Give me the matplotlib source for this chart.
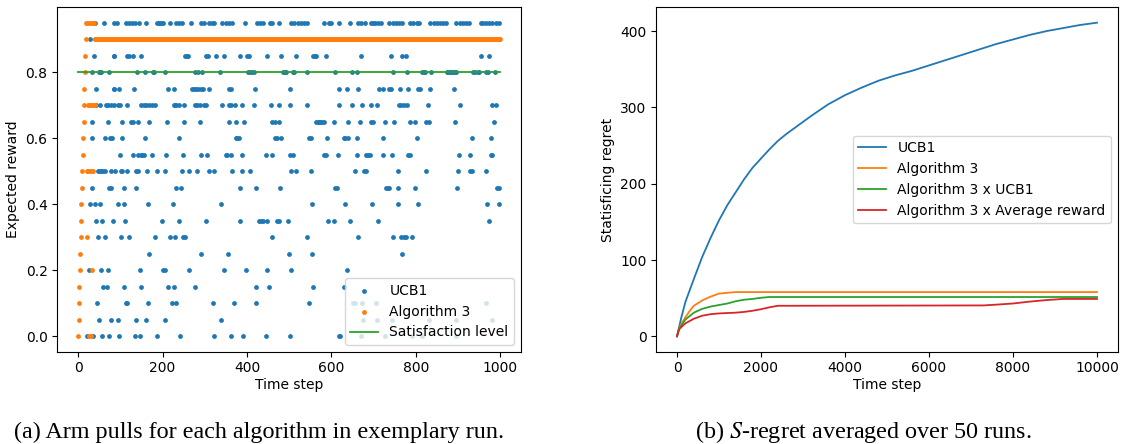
import matplotlib
matplotlib.use("Agg")
import matplotlib.pyplot as plt
import numpy as np

# ---- (a) arm pulls in one exemplary run ----
N_STEPS = 1000
SATISFACTION = 0.8

# UCB1 pull times, one list per arm (expected reward of the arm)
UCB1_000 = [22, 36, 57, 74, 98, 135, 146, 188, 242, 321, 363, 391, 444, 502, 617, 621, 670, 726, 791, 814, 895]
UCB1_005 = [50, 78, 94, 136, 161, 206, 338, 675, 709, 744, 830, 895, 981]
UCB1_010 = [45, 113, 117, 166, 222, 233, 319, 369, 422, 546, 651, 656, 672, 706, 965]
UCB1_015 = [59, 69, 109, 150, 214, 228, 276, 422, 452, 557, 629]
UCB1_020 = [26, 55, 71, 146, 202, 206, 262, 346, 398, 447, 505, 638]
UCB1_025 = [169, 290, 355, 499, 553, 768]
UCB1_030 = [47, 63, 102, 121, 181, 218, 229, 249, 253, 460, 541, 664, 745, 764, 771, 776, 791]
UCB1_035 = [43, 57, 82, 112, 198, 239, 302, 384, 429, 433, 437, 448, 471, 476, 497, 591, 605, 643, 710, 972]
UCB1_040 = [29, 40, 53, 94, 108, 165, 224, 338, 553, 633, 695, 757, 805, 968, 998]
UCB1_045 = [34, 73, 78, 109, 138, 231, 243, 384, 421, 479, 609, 613, 729, 733, 737, 758, 798, 898, 991, 997]
UCB1_050 = [47, 51, 55, 59, 63, 78, 88, 102, 105, 115, 138, 142, 164, 188, 206, 247, 263, 282, 309, 322,
            365, 388, 406, 505, 516, 551, 656, 678, 683, 757, 825, 900, 929, 933, 966]
UCB1_055 = [100, 130, 143, 148, 152, 156, 175, 208, 249, 290, 305, 350, 353, 361, 388, 445, 460, 501, 509,
            582, 586, 616, 660, 683, 687, 691, 722, 743, 781, 786, 902, 929, 978, 981]
UCB1_060 = [32, 63, 76, 81, 104, 158, 239, 373, 377, 381, 466, 470, 481, 547, 551, 590, 629, 633, 640,
            660, 722, 802, 933, 978]
UCB1_065 = [34, 71, 105, 125, 129, 142, 167, 210, 251, 288, 357, 373, 394, 460, 466, 476, 563, 567, 571,
            574, 578, 582, 605, 639, 667, 693, 698, 727, 749, 786, 797, 825, 830, 892, 985]
UCB1_070 = [42, 53, 65, 71, 78, 86, 94, 99, 117, 148, 156, 161, 167, 175, 181, 226, 229, 233, 239, 251,
            276, 282, 288, 299, 303, 342, 357, 361, 371, 388, 417, 457, 476, 502, 543, 619, 648, 673,
            693, 709, 760, 764, 771, 778, 829, 905, 981, 989]
UCB1_075 = [42, 84, 86, 96, 133, 212, 228, 270, 274, 280, 284, 290, 295, 311, 357, 361, 419, 501, 617,
            636, 662, 712, 722, 737, 741, 763, 782, 805, 809, 833, 891]
UCB1_080 = [32, 50, 53, 55, 74, 140, 158, 177, 179, 205, 278, 284, 293, 336, 402, 406, 412, 416, 485,
            489, 493, 509, 512, 543, 608, 648, 660, 745, 780, 815, 819, 822, 836, 873, 877, 881, 884,
            888, 892, 896, 936, 941, 946, 950, 966, 970, 988]
UCB1_085 = [37, 84, 86, 117, 121, 130, 150, 253, 257, 260, 303, 307, 326, 346, 383, 400, 404, 447, 481,
            516, 557, 561, 564, 588, 670, 741, 768, 776, 954, 974]
UCB1_090 = [28]
UCB1_095 = [40, 61, 86, 91, 113, 121, 127, 135, 144, 161, 187, 191, 195, 198, 202, 218, 233, 239, 245,
            267, 291, 298, 311, 316, 321, 342, 350, 357, 365, 396, 423, 431, 439, 454, 460, 476, 505,
            512, 520, 528, 536, 543, 582, 594, 600, 619, 644, 664, 671, 679, 693, 698, 704, 710, 718,
            737, 745, 753, 760, 768, 786, 794, 802, 807, 834, 842, 850, 857, 865, 871, 896, 904, 911,
            919, 926, 954, 960, 966, 974, 981, 989, 997]

# Algorithm 3: exploration phase (step -> arm), then it keeps pulling one arm
ALG3_EXPLORE_STEPS = [0, 1, 2, 3, 4, 5, 6, 7, 8, 9, 10, 11, 12, 13, 14, 15, 16, 17, 18, 19,
                      20, 21, 22, 23, 24, 25, 26, 27, 28, 29, 30, 31, 32, 33, 34, 35, 36, 37, 38, 39]
ALG3_EXPLORE_ARMS = [0.0, 0.05, 0.1, 0.15, 0.2, 0.25, 0.3, 0.35, 0.4, 0.45, 0.5, 0.55, 0.6, 0.65,
                     0.7, 0.75, 0.8, 0.85, 0.9, 0.95,
                     0.5, 0.3, 0.95, 0.7, 0.5, 0.95, 0.7, 0.0, 0.5, 0.7, 0.95, 0.0, 0.2, 0.5,
                     0.7, 0.95, 0.5, 0.7, 0.95, 0.7]
ALG3_SETTLED_ARM = 0.9
ALG3_SETTLED_FROM = 40

# ---- (b) S-regret averaged over 50 runs ----
UCB1_T = [0, 50, 100, 200, 400, 600, 800, 1000, 1200, 1400, 1600, 1800, 2000, 2200, 2400, 2600, 2800,
          3000, 3200, 3600, 4000, 4400, 4800, 5200, 5600, 6000, 6400, 6800, 7200, 7600, 8000, 8400,
          8800, 9200, 9600, 10000]
UCB1_REGRET = [0, 12, 24, 45, 75, 104, 129, 152, 172, 189, 206, 221, 233, 245, 256, 265, 273,
               281, 289, 304, 316, 326, 335, 342, 348, 355, 362, 369, 376, 383, 389, 395,
               400, 404, 408, 411]
ALG3_T = [0, 50, 100, 200, 300, 400, 600, 800, 1000, 1200, 1400, 10000]
ALG3_REGRET = [0, 10, 16, 25, 33, 40, 47, 52, 56, 57, 58, 58]
ALG3_UCB_T = [0, 50, 100, 200, 400, 600, 800, 1000, 1200, 1400, 1600, 1800, 2000, 2200, 10000]
ALG3_UCB_REGRET = [0, 10, 14, 22, 31, 36, 39, 41, 43, 46, 48, 49, 50.5, 51.5, 51.5]
ALG3_AVG_T = [0, 50, 100, 200, 400, 600, 800, 1000, 1200, 1400, 1600, 1800, 2000, 2200, 2400,
              7300, 7600, 8000, 8400, 8800, 9200, 10000]
ALG3_AVG_REGRET = [0, 9, 12, 17, 23, 27, 29, 30, 30.5, 31, 32, 33.5, 35.5, 38, 40,
                   40.5, 41.5, 43, 45.5, 47.5, 49, 49]

FS = 10

plt.rcParams["font.family"] = ["DejaVu Sans"]
plt.rcParams["font.size"] = FS
plt.rcParams["mathtext.fontset"] = "stix"

fig = plt.figure(figsize=(11.21, 4.44), dpi=100)
ax1 = fig.add_axes([57 / 1121, 92 / 444, 464 / 1121, 345 / 444])
ax2 = fig.add_axes([656 / 1121, 92 / 444, 462 / 1121, 345 / 444])

# left: arm pulls
ucb_lists = [UCB1_000, UCB1_005, UCB1_010, UCB1_015, UCB1_020, UCB1_025, UCB1_030, UCB1_035,
             UCB1_040, UCB1_045, UCB1_050, UCB1_055, UCB1_060, UCB1_065, UCB1_070, UCB1_075,
             UCB1_080, UCB1_085, UCB1_090, UCB1_095]
levels = np.round(np.arange(len(ucb_lists)) * 0.05, 2)
ucb_x = np.concatenate([np.array(s, dtype=float) for s in ucb_lists])
ucb_y = np.concatenate([np.full(len(s), lv) for s, lv in zip(ucb_lists, levels)])

settled = np.arange(ALG3_SETTLED_FROM, N_STEPS)
alg_x = np.concatenate([ALG3_EXPLORE_STEPS, settled])
alg_y = np.concatenate([ALG3_EXPLORE_ARMS, np.full(len(settled), ALG3_SETTLED_ARM)])

ax1.scatter(ucb_x, ucb_y, s=12, color="#1f77b4", linewidths=0, label="UCB1")
ax1.scatter(alg_x, alg_y, s=12, color="#ff7f0e", linewidths=0, label="Algorithm 3")
ax1.plot([0, N_STEPS - 1], [SATISFACTION, SATISFACTION], color="#2ca02c", lw=1.3,
         label="Satisfaction level")
ax1.set_xlabel("Time step", labelpad=2)
ax1.set_ylabel("Expected reward")
ax1.set_xticks([0, 200, 400, 600, 800, 1000])
ax1.set_yticks([0.0, 0.2, 0.4, 0.6, 0.8])
ax1.legend(loc="lower right", fontsize=FS)

# right: regret curves
ax2.plot(UCB1_T, UCB1_REGRET, color="#1f77b4", lw=1.3, label="UCB1")
ax2.plot(ALG3_T, ALG3_REGRET, color="#ff7f0e", lw=1.3, label="Algorithm 3")
ax2.plot(ALG3_UCB_T, ALG3_UCB_REGRET, color="#2ca02c", lw=1.3, label="Algorithm 3 x UCB1")
ax2.plot(ALG3_AVG_T, ALG3_AVG_REGRET, color="#d62728", lw=1.3, label="Algorithm 3 x Average reward")
ax2.set_xlabel("Time step", labelpad=2)
ax2.set_ylabel("Statisficing regret")
ax2.set_xticks([0, 2000, 4000, 6000, 8000, 10000])
ax2.set_yticks([0, 100, 200, 300, 400])
ax2.legend(loc="center right", fontsize=FS)

for ax in (ax1, ax2):
    ax.tick_params(labelsize=FS, length=3.3)

# LaTeX-style sub-captions
cap = dict(family=["Liberation Serif", "DejaVu Serif"], fontsize=17.4, ha="center", va="baseline")
fig.text(259 / 1121, 1 - 438 / 444, "(a) Arm pulls for each algorithm in exemplary run.", **cap)
fig.text(863 / 1121, 1 - 438 / 444, "(b) $S$-regret averaged over 50 runs.", **cap)

fig.savefig("out.png", dpi=100)
